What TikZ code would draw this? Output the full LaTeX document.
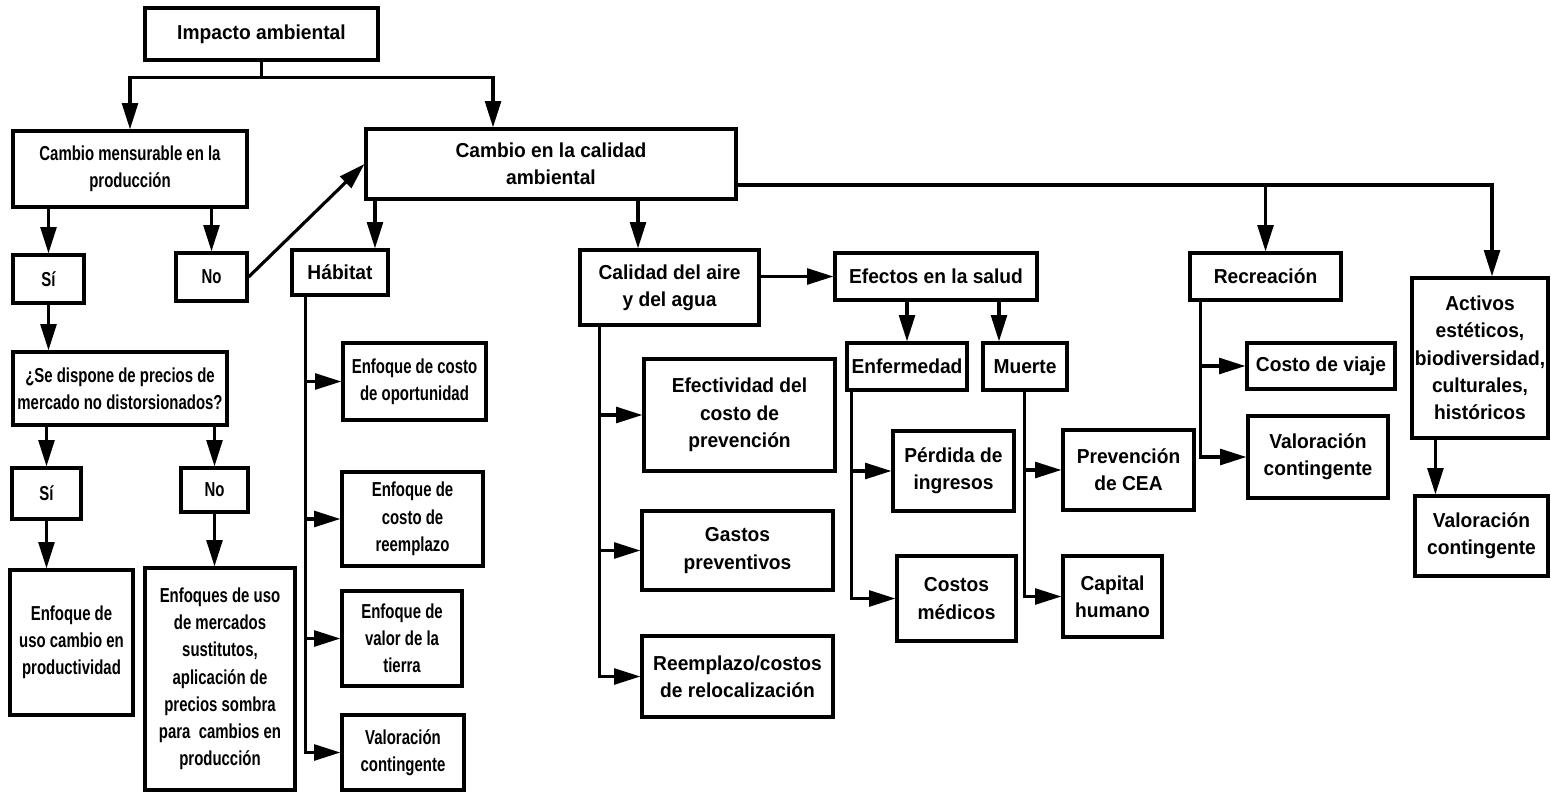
\documentclass[tikz,border=0pt]{standalone}
\usepackage{fontspec}
\setmainfont{Liberation Sans}[FakeStretch=0.95]
\newfontfamily\angosta{Liberation Sans}[FakeStretch=0.74]
\usetikzlibrary{arrows.meta}
\tikzset{
  caja/.style={draw,line width=1.8pt,align=center,inner sep=1pt,font=\fontsize{11.5}{15.5}\selectfont\bfseries},
  cajaest/.style={caja,font=\angosta\fontsize{11.5}{15.5}\selectfont\bfseries},
  flecha/.style={-{Triangle[length=15pt,width=9pt]},line width=1.8pt},
  linea/.style={line width=1.8pt}
}
\begin{document}
\begin{tikzpicture}[x=0.02cm,y=-0.02cm]
\useasboundingbox (0,0) rectangle (1551,794);
\node[caja,minimum width=4.66cm,minimum height=1.04cm] (imp) at (261.5,34) {Impacto ambiental};
\node[cajaest,minimum width=4.68cm,minimum height=1.52cm] (cmp) at (130,169) {Cambio mensurable en la\\producción};
\node[caja,minimum width=7.40cm,minimum height=1.40cm] (cca) at (551,164) {Cambio en la calidad\\ambiental};
\node[cajaest,minimum width=1.42cm,minimum height=0.96cm] (si1) at (48.5,279) {Sí};
\node[cajaest,minimum width=1.42cm,minimum height=0.96cm] (no1) at (211.5,277) {No};
\node[caja,minimum width=1.92cm,minimum height=0.90cm] (hab) at (340,272.5) {Hábitat};
\node[caja,minimum width=3.58cm,minimum height=1.50cm] (cal) at (669.5,287.5) {Calidad del aire\\y del agua};
\node[caja,minimum width=4.04cm,minimum height=0.94cm] (efs) at (936,276.5) {Efectos en la salud};
\node[caja,minimum width=3.02cm,minimum height=0.94cm] (rec) at (1265.5,276.5) {Recreación};
\node[caja,minimum width=2.72cm,minimum height=3.20cm] (act) at (1480,358) {Activos\\estéticos,\\biodiversidad,\\culturales,\\históricos};
\node[cajaest,minimum width=4.28cm,minimum height=1.46cm] (dis) at (120,388.5) {¿Se dispone de precios de\\mercado no distorsionados?};
\node[cajaest,minimum width=1.38cm,minimum height=1.02cm] (si2) at (46.5,493.5) {Sí};
\node[cajaest,minimum width=1.34cm,minimum height=0.88cm] (no2) at (214.5,490) {No};
\node[cajaest,minimum width=2.46cm,minimum height=2.90cm] (eup) at (71.5,642.5) {Enfoque de\\uso cambio en\\productividad};
\node[cajaest,minimum width=3.00cm,minimum height=4.44cm] (ems) at (220,679) {Enfoques de uso\\de mercados\\sustitutos,\\aplicación de\\precios sombra\\para \ cambios en\\producción};
\node[cajaest,minimum width=2.86cm,minimum height=1.54cm] (eco) at (414.5,381.5) {Enfoque de costo\\de oportunidad};
\node[cajaest,minimum width=2.82cm,minimum height=1.88cm] (ecr) at (412.5,519) {Enfoque de\\costo de\\reemplazo};
\node[cajaest,minimum width=2.40cm,minimum height=1.90cm] (evt) at (402,638.5) {Enfoque de\\valor de la\\tierra};
\node[cajaest,minimum width=2.44cm,minimum height=1.50cm] (vch) at (403,752.5) {Valoración\\contingente};
\node[caja,minimum width=3.82cm,minimum height=2.24cm] (ecp) at (739.5,415) {Efectividad del\\costo de\\prevención};
\node[caja,minimum width=3.82cm,minimum height=1.58cm] (gpr) at (737.5,550.5) {Gastos\\preventivos};
\node[caja,minimum width=3.82cm,minimum height=1.62cm] (rcr) at (737.5,676.5) {Reemplazo/costos\\de relocalización};
\node[caja,minimum width=2.40cm,minimum height=0.94cm] (enf) at (907,366.5) {Enfermedad};
\node[caja,minimum width=1.68cm,minimum height=0.94cm] (mue) at (1025,366.5) {Muerte};
\node[caja,minimum width=2.42cm,minimum height=1.60cm] (pin) at (953.5,471) {Pérdida de\\ingresos};
\node[caja,minimum width=2.38cm,minimum height=1.70cm] (cme) at (956.5,598.5) {Costos\\médicos};
\node[caja,minimum width=2.62cm,minimum height=1.60cm] (pce) at (1128.5,470) {Prevención\\de CEA};
\node[caja,minimum width=1.98cm,minimum height=1.62cm] (chu) at (1112.5,596.5) {Capital\\humano};
\node[caja,minimum width=2.96cm,minimum height=0.92cm] (cvi) at (1321,366) {Costo de viaje};
\node[caja,minimum width=2.80cm,minimum height=1.64cm] (vcr) at (1318,457) {Valoración\\contingente};
\node[caja,minimum width=2.66cm,minimum height=1.60cm] (vca) at (1481.5,536) {Valoración\\contingente};
\draw[linea] (imp.south) -- ++(0,16) coordinate (r1);
\draw[flecha] (r1) -| (cmp.north);
\draw[flecha] (r1) -| ([xshift=-1.16cm]cca.north);
\draw[flecha] (cmp.south -| si1.north) -- (si1.north);
\draw[flecha] (cmp.south -| no1.north) -- (no1.north);
\draw[flecha] (no1.east) -- (cca.west);
\draw[flecha] (si1.south) -- (si1.south |- dis.north);
\draw[flecha] (dis.south -| si2.north) -- (si2.north);
\draw[flecha] (dis.south -| no2.north) -- (no2.north);
\draw[flecha] (si2.south) -- (si2.south |- eup.north);
\draw[flecha] (no2.south) -- (no2.south |- ems.north);
\draw[flecha] ([xshift=0.7cm]hab.north |- cca.south) -- ([xshift=0.7cm]hab.north);
\draw[flecha] ([xshift=-0.63cm]cal.north |- cca.south) -- ([xshift=-0.63cm]cal.north);
\coordinate (r2) at ([yshift=-0.42cm]cca.east);
\draw[flecha] (r2) -| ([xshift=0.24cm]act.north);
\draw[flecha] (r2 -| rec.north) -- (rec.north);
\draw[flecha] (cal.east |- efs.west) -- (efs.west);
\draw[flecha] (efs.south -| enf.north) -- (enf.north);
\draw[flecha] ([xshift=-0.52cm]mue.north |- efs.south) -- ([xshift=-0.52cm]mue.north);
\foreach \dest in {eco,ecr,evt,vch} \draw[flecha] ([xshift=0.3cm]hab.south west) |- (\dest.west);
\foreach \dest in {ecp,gpr,rcr} \draw[flecha] ([xshift=0.42cm]cal.south west) |- (\dest.west);
\foreach \dest in {pin,cme} \draw[flecha] ([xshift=0.12cm]enf.south west) |- (\dest.west);
\foreach \dest in {pce,chu} \draw[flecha] ([xshift=0.86cm]mue.south west) |- (\dest.west);
\foreach \dest in {cvi,vcr} \draw[flecha] ([xshift=0.24cm]rec.south west) |- (\dest.west);
\draw[flecha] ([xshift=0.5cm]act.south west) -- ([xshift=0.5cm]act.south west |- vca.north);
\end{tikzpicture}
\end{document}
